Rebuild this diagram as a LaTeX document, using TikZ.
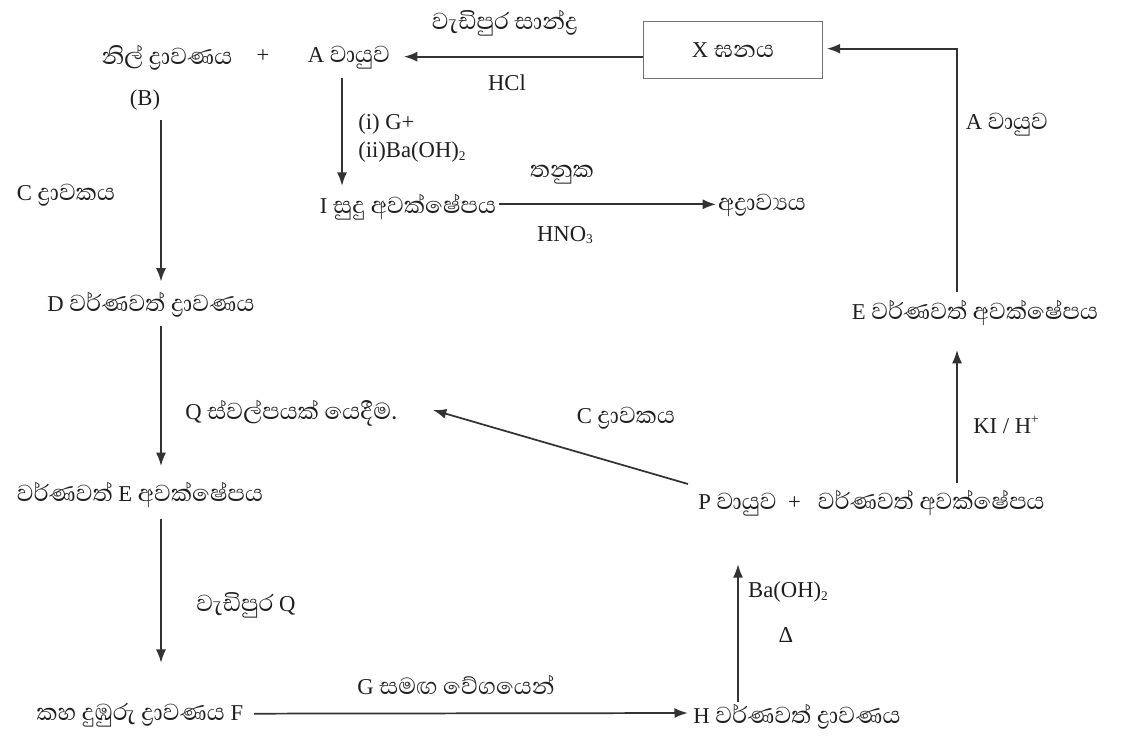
\documentclass[tikz,border=0pt]{standalone}
\usepackage{fontspec}
\setmainfont{Liberation Serif}
\newfontfamily\sinhalafnt[Script=Sinhala,Scale=1.31]{Abhaya Libre}
\usetikzlibrary{arrows.meta}
\newcommand{\sn}[1]{{\sinhalafnt #1}}
\newcommand{\sub}[1]{\raisebox{-0.25ex}{\fontsize{10}{10}\selectfont #1}}
\newcommand{\supr}[1]{\raisebox{0.9ex}{\fontsize{10}{10}\selectfont #1}}
\begin{document}
\begin{tikzpicture}[x=0.75pt,y=-0.75pt,
  every node/.style={font=\fontsize{17}{20}\selectfont, inner sep=0pt, text=black!88},
  arr/.style={draw=black!80, line width=1.3pt, -{Latex[length=10pt,width=7.5pt]}},
  boxx/.style={draw=black!55, line width=0.8pt, minimum width=134pt, minimum height=43pt}]
\useasboundingbox[fill=white] (0,0) rectangle (1127,740);

% top row
\node (blue) at (167,58) {\sn{නිල් ද්‍රාවණය}};
\node (plus1) at (263,56) {+};
\node (Agas) at (349,58) {A \sn{වායුව}};
\node (B) at (145,100) {(B)};
\node (exc) at (505,23) {\sn{වැඩිපුර සාන්ද්‍ර}};
\node (hcl) at (507,83) {HCl};
\node[boxx] (Xbox) at (733,50) {X \sn{ඝනය}};

% middle
\node[anchor=west] (G1) at (358,124) {(i) G+};
\node[anchor=west] (G2) at (358,152) {(ii)Ba(OH)\sub{2}};
\node (Ip) at (408,207) {I \sn{සුදු අවක්ෂේපය}};
\node (dil) at (562,175) {\sn{තනුක}};
\node (hno) at (565,235) {HNO\sub{3}};
\node (ins) at (762,205) {\sn{අද්‍රාව්‍යය}};
\node (Csolv) at (66,195) {C \sn{ද්‍රාවකය}};
\node (D) at (151,305) {D \sn{වර්ණවත් ද්‍රාවණය}};
\node[anchor=west] (Qs) at (185,413) {Q \sn{ස්වල්පයක් යෙදීම.}};
\node (Ep) at (140,495) {\sn{වර්ණවත්} E \sn{අවක්ෂේපය}};
\node (exQ) at (246,605) {\sn{වැඩිපුර} Q};
\node (F) at (140,715) {\sn{කහ දුඹුරු ද්‍රාවණය} F};
\node (Gw) at (456,685) {G \sn{සමඟ වේගයෙන්}};
\node (H) at (797,717) {H \sn{වර්ණවත් ද්‍රාවණය}};
\node (bao) at (788,592) {Ba(OH)\sub{2}};
\node (heat) at (786,635) {Δ};
\node[anchor=west] (P) at (698,503) {P \sn{වායුව}\ \ +\ \ \ \sn{වර්ණවත් අවක්ෂේපය}};
\node (C2) at (626,418) {C \sn{ද්‍රාවකය}};
\node (KI) at (1006,425) {KI / H\supr{+}};
\node (E2) at (975,313) {E \sn{වර්ණවත් අවක්ෂේපය}};
\node (A2) at (1007,125) {A \sn{වායුව}};

% helper coordinates
\coordinate (lc) at (161,0);
\coordinate (ac) at (342,0);
\coordinate (rc) at (957,0);
\coordinate (hc) at (738,0);
\coordinate (atip) at (404,0);
\coordinate (itip) at (716,0);
\coordinate (qtip) at (433,410);
\coordinate (ptail) at (688,484);

% connectors
\draw[arr] ([yshift=-5pt]Xbox.west) -- ([yshift=-5pt]Xbox.west -| atip);
\draw[arr, shorten <=6pt] (E2.north -| rc) |- ([xshift=3pt,yshift=1pt]Xbox.east);
\draw[arr, shorten <=5pt, shorten >=18pt] (P.north -| rc) -- (E2.south -| rc);
\draw[arr] (ptail) -- (qtip);
\draw[arr, shorten <=2pt, shorten >=36pt] (H.north -| hc) -- (P.south -| hc);
\draw[arr, shorten <=8pt, shorten >=4pt] ([yshift=1pt]F.east) -- ([yshift=3pt]H.west);
\draw[arr, shorten <=2pt] ([yshift=2pt]Ip.east) -- ([yshift=2pt]Ip.east -| itip);
\draw[arr, shorten <=6pt, shorten >=6pt] (Agas.south -| ac) -- (Ip.north -| ac);
\draw[arr, shorten <=7pt, shorten >=8pt] (B.south -| lc) -- (D.north -| lc);
\draw[arr, shorten <=6pt, shorten >=12pt] (D.south -| lc) -- (Ep.north -| lc);
\draw[arr, shorten <=8pt, shorten >=30pt] (Ep.south -| lc) -- (F.north -| lc);
\end{tikzpicture}
\end{document}
